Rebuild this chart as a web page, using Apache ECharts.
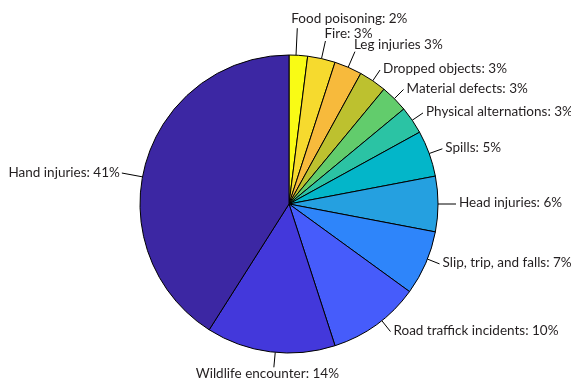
<!DOCTYPE html>
<html><head><meta charset="utf-8">
<script src="https://cdn.jsdelivr.net/npm/echarts@6/dist/echarts.min.js"></script>
<style>html,body{margin:0;padding:0;background:#fff}#c{width:571px;height:381px}</style>
</head><body><div id="c"></div>
<script>
const categories = ["Food poisoning", "Fire", "Leg injuries", "Dropped objects", "Material defects", "Physical alternations", "Spills", "Head injuries", "Slip, trip, and falls", "Road traffick incidents", "Wildlife encounter", "Hand injuries"];
const values = [2, 3, 3, 3, 3, 3, 5, 6, 7, 10, 14, 41];
const labels = ["Food poisoning: 2%", "Fire: 3%", "Leg injuries 3%", "Dropped objects: 3%", "Material defects: 3%", "Physical alternations: 3%", "Spills: 5%", "Head injuries: 6%", "Slip, trip, and falls: 7%", "Road traffick incidents: 10%", "Wildlife encounter: 14%", "Hand injuries: 41%"];
const colors = ["#F9FB15", "#F6DA2E", "#F7BA3C", "#BDC12F", "#62CC6C", "#2BC3A4", "#03B6C9", "#25A0E0", "#2E85FA", "#465CFB", "#4338DB", "#3C27A3"];

// label styling (leader lengths in px, small angle nudges in degrees, text nudges in px)
const leaderLen = [27, 18, 17, 13, 13, 13, 14, 18, 13, 14, 15, 21];
const angleNudge = {0: 0.9, 8: 1.7, 9: 2.5, 10: 1.9, 11: 5.7};
const textNudge = {0: [-5, -3]};

const CX = 289, CY = 204, R = 149;
const chart = echarts.init(document.getElementById('c'));
chart.setOption({
  animation: false,
  series: [{
    type: 'pie',
    center: [CX, CY],
    radius: [0, R],
    startAngle: 90,
    clockwise: true,
    avoidLabelOverlap: false,
    data: categories.map((c, i) => ({
      name: c, value: values[i],
      label: {formatter: labels[i]},
      labelLine: {length: leaderLen[i], length2: 0},
      itemStyle: {color: colors[i]}
    })),
    itemStyle: {borderColor: '#000', borderWidth: 1},
    label: {show: true, position: 'outside', color: '#231F20', fontSize: 13.5, fontFamily: 'Lato, "Open Sans", sans-serif', distanceToLabelLine: 0},
    labelLine: {show: true, lineStyle: {color: '#000', width: 1}},
    labelLayout: function (p) {
      const pts = p.labelLinePoints;
      if (!pts) return {hideOverlap: false};
      const i = p.dataIndex;
      const s = pts[0], e0 = pts[1];
      let ang = Math.atan2(-(e0[1] - CY), e0[0] - CX) + (angleNudge[i] || 0) * Math.PI / 180;
      const len = Math.hypot(e0[0] - s[0], e0[1] - s[1]);
      const ux = Math.cos(ang), uy = -Math.sin(ang);
      const start = [CX + R * ux, CY + R * uy];
      const e = [CX + (R + len) * ux, CY + (R + len) * uy];
      const deg = ang * 180 / Math.PI;
      let x = e[0], y = e[1], align, va;
      if (deg > 60 && deg < 120) { align = 'left'; va = 'bottom'; x -= 1; y += 0; }
      else if (deg >= -60 && deg <= 60) { align = 'left'; va = 'middle'; x += 3; y -= 1; }
      else if (deg <= -60 && deg >= -120) { align = 'center'; va = 'top'; x -= 6.5; y -= 1; }
      else { align = 'right'; va = 'middle'; x -= 2; }
      const tn = textNudge[i];
      if (tn) { x += tn[0]; y += tn[1]; }
      return {x: x, y: y, align: align, verticalAlign: va, hideOverlap: false,
              labelLinePoints: [start, e, e]};
    },
    emphasis: {disabled: true}
  }]
});
</script></body></html>
